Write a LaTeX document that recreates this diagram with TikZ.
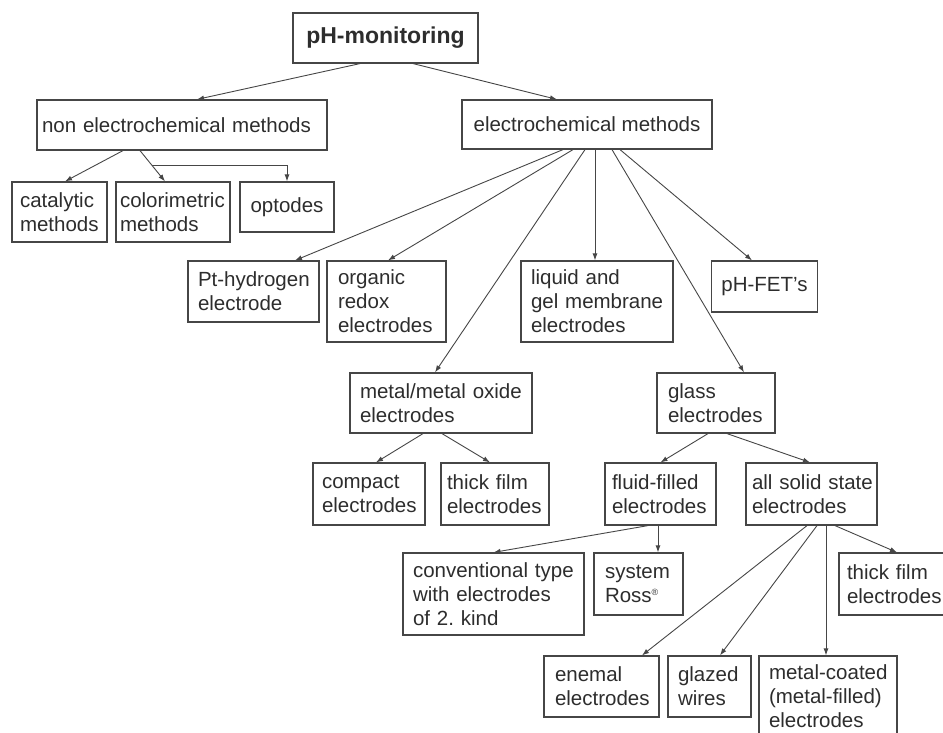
\documentclass[tikz,border=0pt]{standalone}
\usepackage{fontspec}
\setmainfont{Liberation Sans}
\usetikzlibrary{arrows.meta}
\definecolor{linegray}{RGB}{70,70,70}
\definecolor{textgray}{RGB}{45,45,45}

\begin{document}
\begin{tikzpicture}[x=1pt, y=-1pt,
  item/.style={draw=linegray, line width=1.2pt, text=textgray, align=left,
    inner xsep=10pt, inner ysep=0pt, font=\fontsize{20.5}{24}\selectfont,
    execute at begin node={\hyphenpenalty=10000\exhyphenpenalty=10000}},
  link/.style={-{Latex[length=7pt,width=5pt]}, draw=linegray, line width=0.9pt}]
  \useasboundingbox (0,0) rectangle (943,733);
  \clip (0,0) rectangle (943,733);

  \node[item, align=center, minimum width=185pt, minimum height=50pt,
    font=\fontsize{23}{26}\selectfont\bfseries] (root) at (385.5,38) {pH-monitoring};
  \node[item, inner xsep=5pt, text width=280pt, minimum height=50pt] (nonec) at (182,125) {non~electrochemical~methods};
  \node[item, align=center, minimum width=250pt, minimum height=49pt] (ec) at (587,124.5) {electrochemical methods};

  \node[item, inner xsep=8pt, text width=79pt, minimum height=60pt] (cat) at (59.5,212) {catalytic\\methods};
  \node[item, inner xsep=4pt, text width=106pt, minimum height=60pt] (col) at (173,212) {colorimetric\\methods};
  \node[item, align=center, minimum width=94pt, minimum height=50pt] (opt) at (287,207) {optodes};

  \node[item, text width=111pt, minimum height=61pt] (pt) at (253.5,291.5) {Pt-hydrogen\\electrode};
  \node[item, inner xsep=11pt, text width=97pt, minimum height=81pt] (org) at (386.5,301.5) {organic\\redox\\electrodes};
  \node[item, text width=132pt, minimum height=81pt] (liq) at (597,301.5) {liquid~and\\gel~membrane\\electrodes};
  \node[item, align=center, minimum width=105pt, minimum height=51pt] (fet) at (764.5,286.5) {pH-FET's};

  \node[item, text width=162pt, minimum height=60pt] (mmo) at (441,403) {metal/metal~oxide\\electrodes};
  \node[item, inner xsep=11pt, text width=96pt, minimum height=60pt] (gls) at (716,403) {glass\\electrodes};

  \node[item, inner xsep=9pt, text width=94pt, minimum height=62pt] (cmp) at (369,494) {compact\\electrodes};
  \node[item, inner xsep=6pt, text width=96pt, minimum height=62pt] (tfa) at (495,494) {thick~film\\electrodes};
  \node[item, inner xsep=7pt, text width=97pt, minimum height=62pt] (ff) at (660.5,494) {fluid-filled\\electrodes};
  \node[item, inner xsep=6pt, text width=119pt, minimum height=62pt] (ass) at (811.5,494) {all~solid~state\\electrodes};

  \node[item, text width=161pt, minimum height=82pt] (conv) at (493.5,594) {conventional~type\\with~electrodes\\of~2.~kind};
  \node[item, inner xsep=11pt, text width=67pt, minimum height=62pt] (ross) at (638.5,584)
    {system\\Ross\textsuperscript{\fontsize{9}{9}\selectfont ®}};
  \node[item, inner xsep=8pt, text width=96pt, minimum height=62pt] (tfb) at (895,584) {thick~film\\electrodes};

  \node[item, inner xsep=11pt, text width=93pt, minimum height=61pt] (ene) at (601.5,686.5) {enemal\\electrodes};
  \node[item, text width=63pt, minimum height=61pt] (glz) at (709.5,686.5) {glazed\\wires};
  \node[item, text width=118pt, minimum height=81pt] (mc) at (828,696.5) {metal-coated\\(metal-filled)\\electrodes};

  \draw[link] ([xshift=-25.5pt]root.south) -- ([xshift=15pt]nonec.north);
  \draw[link] ([xshift=27.5pt]root.south) -- ([xshift=-30pt]ec.north);

  \draw[link] ([xshift=-59pt]nonec.south) -- ([xshift=5.5pt]cat.north);
  \draw[link] ([xshift=-42pt]nonec.south) -- coordinate[pos=0.47] (split) ([xshift=-8pt]col.north);
  \draw[link] (split) -| (opt.north);

  \draw[link] ([xshift=-24pt]ec.south) -- ([xshift=41.5pt]pt.north);
  \draw[link] ([xshift=-14pt]ec.south) -- ([xshift=1.5pt]org.north);
  \draw[link] ([xshift=-2pt]ec.south) -- ([xshift=-6pt]mmo.north);
  \draw[link] ([xshift=8pt]ec.south) -- ([xshift=-2pt]liq.north);
  \draw[link] ([xshift=25pt]ec.south) -- ([xshift=28pt]gls.north);
  \draw[link] ([xshift=33pt]ec.south) -- ([xshift=-12.5pt]fet.north);

  \draw[link] ([xshift=-18pt]mmo.south) -- ([xshift=7pt]cmp.north);
  \draw[link] ([xshift=1pt]mmo.south) -- ([xshift=-5pt]tfa.north);

  \draw[link] ([xshift=-8pt]gls.south) -- (ff.north);
  \draw[link] ([xshift=11pt]gls.south) -- ([xshift=-1.5pt]ass.north);

  \draw[link] ([xshift=-12.5pt]ff.south) -- (conv.north);
  \draw[link] ([xshift=-2.5pt]ff.south) -- ([xshift=19.5pt]ross.north);

  \draw[link] ([xshift=-4.5pt]ass.south) -- ([xshift=40.5pt]ene.north);
  \draw[link] ([xshift=5.5pt]ass.south) -- ([xshift=10.5pt]glz.north);
  \draw[link] ([xshift=14.5pt]ass.south) -- ([xshift=-2pt]mc.north);
  \draw[link] ([xshift=23.5pt]ass.south) -- ([xshift=2pt]tfb.north);
\end{tikzpicture}
\end{document}
